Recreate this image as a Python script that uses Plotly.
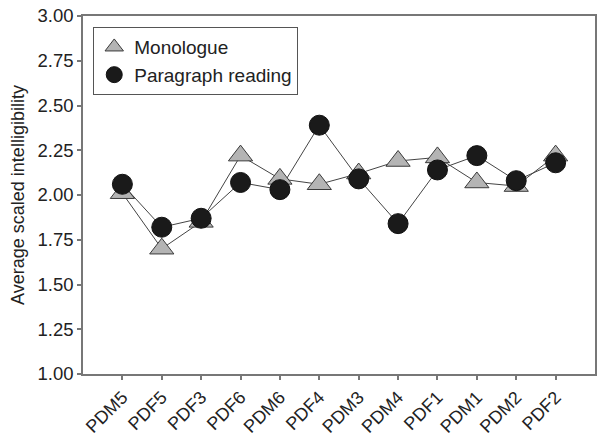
import plotly.graph_objects as go

speakers = ["PDM5", "PDF5", "PDF3", "PDF6", "PDM6", "PDF4", "PDM3", "PDM4", "PDF1", "PDM1", "PDM2", "PDF2"]
monologue = [2.01, 1.70, 1.85, 2.22, 2.09, 2.06, 2.12, 2.19, 2.21, 2.07, 2.05, 2.22]
paragraph = [2.06, 1.82, 1.87, 2.07, 2.03, 2.39, 2.09, 1.84, 2.14, 2.22, 2.08, 2.18]
y_ticks = [1.00, 1.25, 1.50, 1.75, 2.00, 2.25, 2.50, 2.75, 3.00]

font_family = "Liberation Sans, Arial, sans-serif"
line_style = dict(color="#444444", width=1)

fig = go.Figure()
# connecting lines (no legend entry)
fig.add_trace(go.Scatter(x=speakers, y=monologue, mode="lines", line=line_style,
                         showlegend=False, hoverinfo="skip"))
fig.add_trace(go.Scatter(x=speakers, y=paragraph, mode="lines", line=line_style,
                         showlegend=False, hoverinfo="skip"))
# markers (legend entries show only the symbol)
fig.add_trace(go.Scatter(
    x=speakers, y=monologue, mode="markers", name="Monologue",
    marker=dict(symbol="triangle-up", size=21, color="#b4b4b4",
                line=dict(color="#3a3a3a", width=1)),
))
fig.add_trace(go.Scatter(
    x=speakers, y=paragraph, mode="markers", name="Paragraph reading",
    marker=dict(symbol="circle", size=20, color="#1a1a1a",
                line=dict(color="#111111", width=1)),
))

fig.update_layout(
    width=605, height=443,
    margin=dict(l=83, r=10, t=16, b=69),
    paper_bgcolor="white", plot_bgcolor="white",
    font=dict(family=font_family, size=18, color="#222222"),
    showlegend=True,
    legend=dict(
        x=0.02, y=0.969, xanchor="left", yanchor="top",
        bordercolor="#555555", borderwidth=1, bgcolor="white",
        font=dict(size=19, color="#222222"),
        itemsizing="trace",
    ),
    xaxis=dict(
        type="category", categoryorder="array", categoryarray=speakers,
        range=[-1, 12], automargin=False,
        showgrid=False, zeroline=False,
        showline=True, linecolor="#777777", linewidth=1.5, mirror=True,
        ticks="outside", ticklen=4, tickcolor="#777777", tickwidth=1.5,
        tickangle=-45, tickfont=dict(size=18, color="#222222"),
    ),
    yaxis=dict(
        range=[1.0, 3.0], tickvals=y_ticks, automargin=False,
        ticktext=[f"{v:.2f}" for v in y_ticks],
        showgrid=False, zeroline=False,
        showline=True, linecolor="#777777", linewidth=1.5, mirror=True,
        ticks="outside", ticklen=4, tickcolor="#777777", tickwidth=1.5,
        tickfont=dict(size=18.5, color="#222222"),
        title=dict(text="Average scaled intelligibility", font=dict(size=18, color="#222222"), standoff=8),
    ),
)

# Remove the browser's default 8px body margin so the figure fills the window exactly.
fig.write_html("out.html", config={"displayModeBar": False},
               post_script="document.body.style.margin='0';")
